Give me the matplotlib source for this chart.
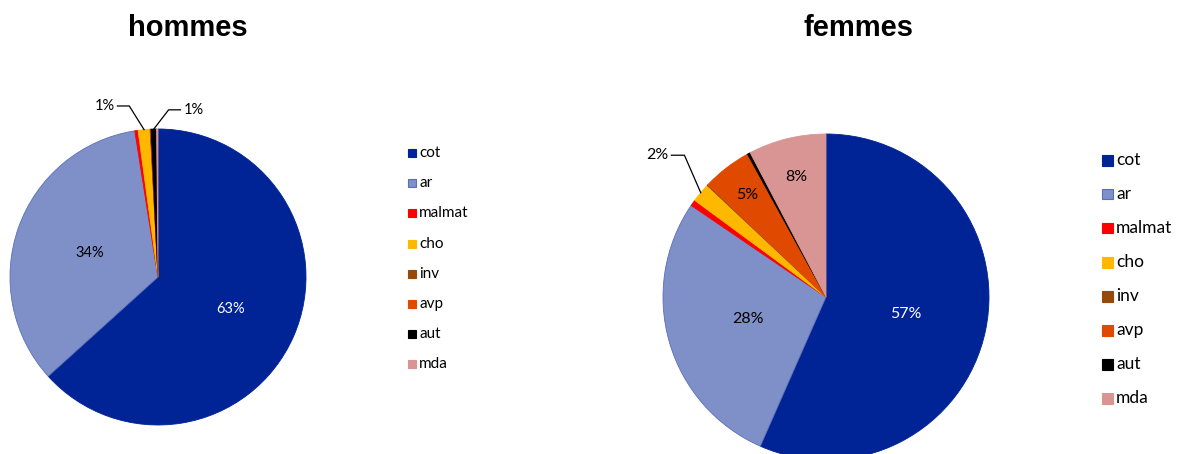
import matplotlib
matplotlib.use("Agg")
import matplotlib.pyplot as plt
import numpy as np
from matplotlib.patches import Rectangle

categories = ["cot", "ar", "malmat", "cho", "inv", "avp", "aut", "mda"]
colors = ["#002395", "#7F8FC8", "#FF0000", "#FFB800", "#984807", "#E04A00", "#000000", "#D99594"]
hommes = [63.3, 34.2, 0.35, 1.3, 0.05, 0.05, 0.6, 0.15]
femmes = [56.6, 27.9, 0.6, 1.9, 0.1, 4.9, 0.3, 7.7]
hommes_labels = ["63%", "34%", "", "1%", "", "", "1%", ""]
femmes_labels = ["57%", "28%", "", "2%", "", "5%", "", "8%"]

plt.rcParams['font.family'] = ['Lato', 'DejaVu Sans']

W, H = 1178, 454
fig = plt.figure(figsize=(W / 100, H / 100), dpi=100)


def add_pie(cx, cy, r, values, labels, inside_dist, outside, fs, title, tx):
    ax = fig.add_axes([(cx - r) / W, 1 - (cy + r) / H, 2 * r / W, 2 * r / H])
    wedges, _ = ax.pie(values, colors=colors, startangle=90, counterclock=False,
                       radius=1, wedgeprops=dict(linewidth=0.6, edgecolor="white"))
    for w, c in zip(wedges, colors):
        w.set_edgecolor(c)
    wedges[1].set_edgecolor("#5A6FB8")
    ax.set_xlim(-1, 1)
    ax.set_ylim(-1, 1)
    ax.set_aspect("equal")
    ax.axis("off")
    for i, (w, lab) in enumerate(zip(wedges, labels)):
        if not lab:
            continue
        mid = np.deg2rad((w.theta1 + w.theta2) / 2)
        if i in outside:
            dxl, dyl, side = outside[i]
            px, py = np.cos(mid) * 1.0, np.sin(mid) * 1.0
            ex, ey = px + dxl, py + dyl
            hx = ex + (0.08 if side == "r" else -0.08)
            ax.plot([px, ex, hx], [py, ey, ey], color="black", lw=0.9, clip_on=False)
            ax.text(hx + (0.02 if side == "r" else -0.02), ey, lab,
                    ha="left" if side == "r" else "right", va="center", fontsize=fs)
        else:
            d = inside_dist[i]
            col = "white" if i == 0 else "black"
            ax.text(np.cos(mid) * d, np.sin(mid) * d, lab, ha="center", va="center",
                    fontsize=fs, color=col)
    fig.text(tx / W, 1 - 28 / H, title, ha="center", va="center", fontsize=21,
             fontweight="bold", family=["Liberation Sans", "DejaVu Sans"])


def add_legend(x, y0, dy, sq, fs):
    for k, (cat, col) in enumerate(zip(categories, colors)):
        y = y0 + k * dy
        ec = "#5A6FB8" if cat == "ar" else col
        fig.patches.append(Rectangle(((x) / W, 1 - (y + sq / 2) / H), sq / W, sq / H,
                                     transform=fig.transFigure, facecolor=col,
                                     edgecolor=ec, lw=0.8))
        fig.text((x + sq + 3) / W, 1 - y / H, cat, ha="left", va="center", fontsize=fs)


add_pie(158, 277, 148, hommes, hommes_labels,
        {0: 0.54, 1: 0.49},
        {3: (-0.1, 0.16, "l"), 6: (0.1, 0.13, "r")},
        10.5, "hommes", 188)
add_pie(826, 297, 163, femmes, femmes_labels,
        {0: 0.5, 1: 0.5, 5: 0.79, 7: 0.76},
        {3: (-0.1, 0.23, "l")},
        11.5, "femmes", 858)

add_legend(408, 153, 30.2, 8, 11)
add_legend(1102, 160, 34, 11, 12.5)

fig.savefig("out.png", dpi=100)
